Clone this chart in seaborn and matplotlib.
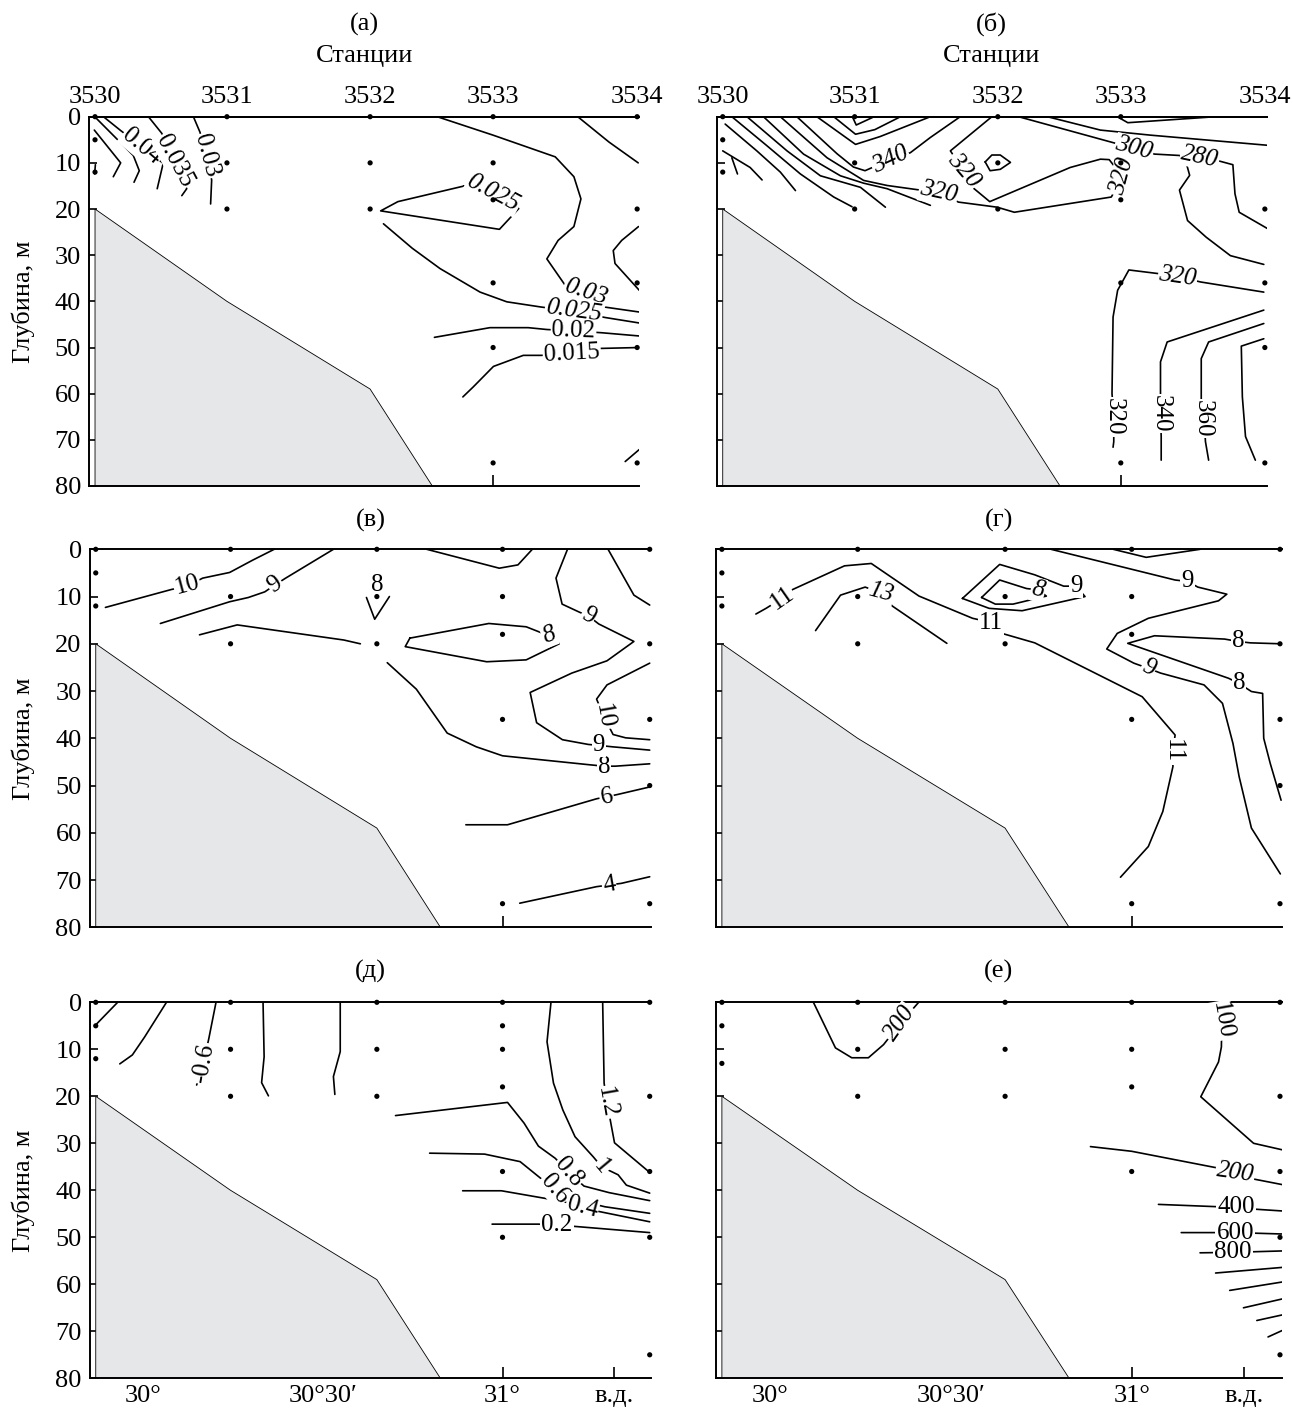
import matplotlib
matplotlib.use("Agg")
import matplotlib.pyplot as plt
import seaborn as sns

# ---------------- section geometry ----------------
stations = ["3530", "3531", "3532", "3533", "3534"]
station_lon = [29.867, 30.2425, 30.65, 31.0, 31.41]
lon_ticks = [30.0, 30.5, 31.0]
lon_tick_labels = ["30°", "30°30′", "31°"]
east_label_lon = 31.31
depth_ticks = [0, 10, 20, 30, 40, 50, 60, 70, 80]

# sea floor along the section
bottom_lon = [29.867, 30.2425, 30.65, 30.827, 29.867]
bottom_depth = [20, 40, 59, 80, 80]

# sampling depths at each station (same order as `stations`)
samples_a = [[0, 5, 12], [0, 10, 20], [0, 10, 20], [0, 10, 18, 36, 50, 75], [0, 20, 36, 50, 75]]
samples_b = [[0, 5, 12], [0, 10, 20], [0, 10, 20], [0, 10, 18, 36, 75], [20, 36, 50, 75]]
samples_v = [[0, 5, 12], [0, 10, 20], [0, 10, 20], [0, 10, 18, 36, 75], [0, 20, 36, 50, 75]]
samples_g = [[0, 5, 12], [0, 10, 20], [0, 10, 20], [0, 10, 18, 36, 75], [0, 20, 36, 50, 75]]
samples_d = [[0, 5, 12], [0, 10, 20], [0, 10, 20], [0, 5, 10, 18, 36, 50], [0, 20, 36, 50, 75]]
samples_e = [[0, 5, 13], [0, 10, 20], [0, 10, 20], [0, 10, 18, 36], [0, 20, 36, 50, 75]]

# isolines: (level, longitudes, depths, [(label lon, label depth, angle, italic), ...])
iso_a = [
    (None, [29.868, 29.866], [10.4, 12.4], []),
    (None, [29.865, 29.94, 29.919], [2.9, 10.0, 13.0], []),
    (None, [29.870, 29.976, 29.993, 29.978], [0.3, 8.4, 11.7, 14.2], []),
    (0.04, [29.891, 29.94, 30.0, 30.061, 30.044], [0, 3.0, 6.5, 10.1, 15.6], [(30.0, 6.5, -40, False)]),
    (0.035, [30.019, 30.057, 30.093, 30.128, 30.114], [0, 3.6, 9.6, 15.6, 17.1], [(30.093, 9.6, -62, False)]),
    (0.03, [30.147, 30.166, 30.183, 30.199, 30.196], [0, 3.4, 8.5, 13.7, 18.9], [(30.183, 8.5, -75, False)]),
    (0.03, [30.841, 31.0, 31.177, 31.230, 31.250, 31.230, 31.185, 31.153, 31.205, 31.264, 31.314, 31.415],
     [0, 4.0, 8.7, 13.0, 17.8, 23.8, 26.8, 30.8, 36.5, 38.0, 41.2, 42.3], [(31.264, 38.0, -18, True)]),
    (0.025, [30.918, 30.729, 30.680, 31.018, 31.073, 31.0, 30.918],
     [15.0, 18.4, 20.4, 24.4, 19.9, 16.6, 15.0], [(31.0, 16.6, -28, True)]),
    (0.025, [30.688, 30.77, 30.849, 30.963, 31.039, 31.134, 31.23, 31.319, 31.417],
     [23.2, 28.5, 32.9, 38.0, 40.1, 41.2, 42.2, 43.5, 44.7], [(31.23, 42.0, -8, True)]),
    (0.02, [30.833, 30.991, 31.100, 31.153, 31.229, 31.309, 31.416],
     [47.8, 45.7, 45.7, 46.1, 46.4, 46.8, 47.5], [(31.229, 46.4, -2, False)]),
    (0.015, [30.914, 30.944, 31.001, 31.086, 31.138, 31.224, 31.305, 31.417],
     [60.7, 58.5, 54.1, 51.7, 51.7, 51.2, 50.2, 50.0], [(31.224, 51.2, 3, False)]),
    (None, [31.376, 31.416], [74.7, 72.1], []),
    (None, [31.414, 31.366, 31.342, 31.347, 31.416], [23.8, 26.8, 29.0, 31.8, 37.6], []),
    (None, [31.241, 31.33, 31.413], [0, 5.5, 10.0], []),
]

iso_b = [
    (None, [29.893, 29.909], [8.9, 12.4], []),
    (None, [29.867, 29.945, 29.979], [7.4, 11.0, 13.7], []),
    (None, [29.874, 29.964, 30.031, 30.074], [1.6, 7.4, 12.0, 16.0], []),
    (None, [29.893, 29.993, 30.088, 30.183, 30.235], [0, 6.3, 12.4, 17.4, 19.5], []),
    (None, [29.936, 30.05, 30.145, 30.259, 30.33], [0, 7.4, 12.8, 15.3, 19.6], []),
    (None, [29.983, 30.097, 30.202, 30.268, 30.335, 30.458], [0, 8.1, 12.8, 14.4, 15.6, 19.2], []),
    (320, [30.031, 30.164, 30.268, 30.335, 30.42, 30.481, 30.538, 30.648, 30.697, 30.973, 31.005, 30.967,
           30.942, 30.856, 30.627, 30.581, 30.553, 30.515, 30.633],
     [0, 8.9, 13.8, 14.9, 15.8, 16.4, 18.5, 19.6, 20.7, 17.4, 13.0, 9.3, 9.2, 11.0, 18.4, 15.5, 11.7, 7.4, 0],
     [(30.481, 16.4, -12, True), (31.005, 13.0, 75, True), (30.553, 11.7, -50, True)]),
    (None, [30.614, 30.633, 30.657, 30.686, 30.657, 30.628, 30.614], [9.8, 8.3, 8.3, 9.9, 11.4, 11.7, 9.8], []),
    (None, [30.236, 30.247, 30.298], [0, 1.8, 0], []),
    (None, [30.183, 30.245, 30.30, 30.373], [0, 3.8, 2.8, 0], []),
    (None, [30.135, 30.245, 30.315, 30.458], [0, 6.0, 4.3, 0], []),
    (340, [30.078, 30.192, 30.239, 30.272, 30.344, 30.401, 30.458, 30.543], [0, 8.0, 10.9, 11.7, 9.3, 7.8, 4.5, 0],
     [(30.344, 9.4, 25, True)]),
    (None, [30.99, 31.02, 31.27], [0, 1.3, 0], []),
    (None, [30.791, 30.942, 31.085, 31.419], [0, 2.9, 4.0, 6.2], []),
    (300, [30.709, 30.982, 31.038, 31.096, 31.167, 31.184, 31.196, 31.167, 31.19, 31.243, 31.312, 31.407],
     [0, 5.7, 6.9, 8.1, 8.4, 9.4, 12.7, 15.9, 22.5, 26.1, 30.1, 32.0], [(31.038, 6.9, -15, True)]),
    (280, [31.175, 31.225, 31.28, 31.319, 31.325, 31.337, 31.419], [8.4, 8.6, 9.6, 10.4, 16.7, 20.7, 24.3],
     [(31.225, 8.7, -12, True)]),
    (320, [31.407, 31.227, 31.162, 31.108, 31.023, 30.991, 30.978, 30.975, 30.98, 30.98, 30.978],
     [38.0, 35.8, 34.6, 34.0, 33.2, 37.6, 43.4, 60.0, 65.0, 70.4, 71.6],
     [(31.162, 34.6, -8, True), (30.98, 65.0, -90, False)]),
    (340, [31.407, 31.132, 31.113, 31.113, 31.113, 31.115, 31.115], [41.9, 48.8, 53.1, 60.0, 64.3, 69.3, 74.4],
     [(31.113, 64.3, -90, False)]),
    (360, [31.407, 31.250, 31.229, 31.229, 31.237, 31.241, 31.250], [44.8, 48.8, 52.4, 61.4, 65.4, 70.4, 74.4],
     [(31.233, 65.4, -90, False)]),
    (None, [31.407, 31.343, 31.346, 31.355, 31.383], [48.1, 49.7, 60.7, 69.3, 74.4], []),
]

iso_v = [
    (10, [29.894, 30.078, 30.121, 30.165, 30.240, 30.304, 30.364], [12.3, 8.5, 7.8, 6.1, 4.9, 2.3, 0],
     [(30.121, 7.6, 15, False)]),
    (9, [30.047, 30.24, 30.292, 30.338, 30.367, 30.396, 30.529], [15.7, 11.1, 10.2, 9.0, 7.5, 6.1, 0],
     [(30.367, 7.5, 35, False)]),
    (None, [30.156, 30.261, 30.558, 30.604], [18.1, 16.0, 19.2, 20.0], []),
    (8, [30.621, 30.644, 30.685], [10.2, 14.8, 10.0], [(30.652, 7.6, 0, False)]),
    (8, [30.679, 30.760, 30.846, 30.927, 31.0, 31.242, 31.283, 31.314, 31.41],
     [24.0, 29.6, 38.9, 41.8, 43.7, 45.6, 45.9, 45.9, 45.4], [(31.283, 46.0, 0, False)]),
    (8, [30.742, 30.962, 31.066, 31.106, 31.129, 31.158, 31.066, 30.956, 30.729, 30.742],
     [18.8, 15.7, 16.4, 17.6, 18.1, 20.0, 23.4, 23.8, 20.6, 18.8], [(31.129, 18.1, 20, True)]),
    (None, [30.789, 30.991, 31.043, 31.083], [0, 4.0, 3.3, 0], []),
    (9, [31.181, 31.149, 31.166, 31.214, 31.239, 31.268, 31.366, 31.291, 31.193, 31.077, 31.095, 31.167,
         31.239, 31.268, 31.306, 31.41],
     [0, 6.1, 11.6, 13.3, 14.1, 15.8, 19.5, 23.6, 26.2, 30.3, 36.7, 40.3, 41.3, 41.5, 41.8, 42.5],
     [(31.239, 14.1, -30, False), (31.268, 41.5, 0, False)]),
    (10, [31.41, 31.291, 31.262, 31.283, 31.308, 31.343, 31.41], [24.1, 28.7, 31.7, 35.5, 39.2, 39.9, 40.3],
     [(31.283, 35.3, -80, False)]),
    (None, [31.294, 31.366, 31.41], [0, 9.7, 11.8], []),
    (6, [30.898, 31.014, 31.262, 31.32, 31.41], [58.3, 58.3, 52.8, 51.9, 50.3], [(31.29, 52.4, 10, False)]),
    (4, [31.048, 31.262, 31.331, 31.41], [74.9, 71.4, 70.7, 69.3], [(31.297, 71.1, 10, False)]),
]

iso_g = [
    (11, [29.961, 29.989, 30.033, 30.063, 30.206, 30.280, 30.412, 30.560, 30.612, 30.646, 30.732, 31.029,
          31.120, 31.114, 31.114, 31.086, 31.046, 30.969],
     [13.7, 12.5, 10.4, 8.5, 3.5, 3.0, 9.9, 14.6, 15.5, 17.9, 19.8, 31.2, 39.3, 42.8, 46.0, 55.5, 62.9, 69.4],
     [(30.033, 10.4, 35, False), (30.612, 15.5, 0, False), (31.114, 42.8, -90, False)]),
    (13, [30.126, 30.195, 30.263, 30.307, 30.338, 30.489], [17.2, 9.7, 8.0, 9.2, 12.0, 19.9],
     [(30.307, 9.2, -15, True)]),
    (9, [30.532, 30.635, 30.732, 30.812, 30.846, 30.871, 30.697, 30.606, 30.532],
     [10.4, 3.2, 5.4, 7.8, 7.8, 10.0, 13.0, 12.5, 10.4], [(30.846, 7.8, 0, False)]),
    (8, [30.585, 30.635, 30.709, 30.741, 30.764, 30.672, 30.623, 30.585],
     [10.2, 6.5, 8.3, 8.6, 9.9, 11.6, 11.6, 10.2], [(30.741, 8.6, -15, True)]),
    (None, [30.949, 31.04, 31.189], [0, 1.7, 0], []),
    (9, [30.777, 31.120, 31.154, 31.183, 31.263, 31.240, 31.046, 30.960, 30.931, 31.006, 31.046, 31.080,
         31.200, 31.251, 31.280, 31.297, 31.331, 31.411],
     [0, 6.5, 6.8, 8.0, 9.5, 10.9, 14.6, 17.8, 21.1, 24.1, 25.2, 26.2, 28.7, 32.6, 41.1, 48.1, 59.0, 68.7],
     [(31.154, 6.8, 0, False), (31.046, 25.2, -30, False)]),
    (8, [31.413, 31.328, 31.294, 31.257, 31.063, 30.989, 31.268, 31.297, 31.331, 31.362, 31.365, 31.383, 31.413],
     [20.0, 19.8, 19.5, 19.0, 18.3, 19.9, 27.3, 28.4, 30.1, 30.5, 40.0, 45.3, 53.1],
     [(31.294, 19.5, 0, False), (31.297, 28.4, 0, False)]),
]

iso_d = [
    (None, [29.867, 29.928], [4.8, 0], []),
    (None, [29.934, 29.969, 30.003, 30.064], [13.1, 11.2, 7.4, 0], []),
    (-0.6, [30.202, 30.182, 30.167, 30.148], [0, 7.7, 13.0, 17.6], [(30.167, 13.0, 80, False)]),
    (None, [30.333, 30.336, 30.329, 30.348], [0, 11.6, 17.1, 19.9], []),
    (None, [30.548, 30.548, 30.529, 30.533], [0, 10.5, 15.8, 19.6], []),
    (0.8, [30.702, 31.014, 31.060, 31.100, 31.147, 31.184, 31.227, 31.297, 31.410],
     [24.1, 21.3, 25.7, 30.6, 33.2, 36.2, 39.1, 40.5, 42.2], [(31.184, 36.2, -50, False)]),
    (0.6, [30.797, 30.950, 31.049, 31.112, 31.144, 31.176, 31.285, 31.41],
     [32.1, 32.3, 33.9, 37.8, 39.8, 41.5, 43.5, 44.9], [(31.144, 39.8, -50, False)]),
    (0.4, [30.889, 30.997, 31.170, 31.222, 31.268, 31.41], [40.1, 40.1, 42.4, 43.6, 44.5, 46.7],
     [(31.222, 43.6, -15, False)]),
    (0.2, [30.971, 31.1, 31.152, 31.204, 31.41], [47.2, 47.2, 47.4, 47.7, 49.0], [(31.152, 47.4, 0, False)]),
    (1, [31.135, 31.124, 31.142, 31.168, 31.202, 31.253, 31.276, 31.322, 31.345, 31.41],
     [0, 8.4, 17.2, 22.9, 28.6, 32.9, 35.0, 36.7, 38.9, 40.6], [(31.276, 35.0, -50, False)]),
    (1.2, [31.279, 31.283, 31.291, 31.312, 31.41], [0, 17.2, 21.3, 29.9, 36.2], [(31.29, 21.3, -80, False)]),
]

iso_e = [
    (200, [30.12, 30.181, 30.226, 30.272, 30.314, 30.36, 30.411], [0, 9.7, 11.8, 11.8, 9.0, 4.5, 0],
     [(30.36, 4.5, 55, True)]),
    (100, [31.229, 31.249, 31.248, 31.24, 31.191, 31.337, 31.417], [0, 3.9, 9.5, 12.7, 20.1, 30.0, 31.4],
     [(31.249, 3.9, -80, False)]),
    (200, [30.886, 31.0, 31.234, 31.286, 31.337, 31.417], [30.7, 31.7, 35.2, 36.2, 37.6, 38.8],
     [(31.286, 36.2, -8, True)]),
    (400, [31.074, 31.24, 31.289, 31.337, 31.417], [43.0, 43.5, 43.6, 44.0, 44.4], [(31.289, 43.6, 0, False)]),
    (600, [31.137, 31.24, 31.286, 31.417], [49.0, 49.0, 49.0, 49.3], [(31.286, 49.0, 0, False)]),
    (800, [31.189, 31.28, 31.417], [53.3, 53.2, 52.9], [(31.28, 53.2, 0, False)]),
    (None, [31.232, 31.417], [57.6, 56.4], []),
    (None, [31.271, 31.417], [61.3, 59.5], []),
    (None, [31.309, 31.417], [65.0, 63.1], []),
    (None, [31.346, 31.417], [67.7, 66.5], []),
    (None, [31.377, 31.417], [71.2, 69.8], []),
]

panel_letters = ["(а)", "(б)", "(в)", "(г)", "(д)", "(е)"]

# ---------------- styling ----------------
sns.set_theme(style="ticks", rc={
    "axes.edgecolor": "black", "text.color": "black", "axes.labelcolor": "black",
    "xtick.color": "black", "ytick.color": "black",
})
plt.rcParams["font.family"] = ["Liberation Serif", "DejaVu Serif"]

FS = 19        # axis text
FS_ISO = 18    # isoline labels
GREY = "#e6e7e9"

fig = plt.figure(figsize=(12.93, 14.09), dpi=100)
W, H = 1293.0, 1409.0


def box(left, right, top, bottom):
    return [left / W, 1 - bottom / H, (right - left) / W, (bottom - top) / H]


frames = [
    box(89.4, 638.9, 116.7, 486.0), box(717.1, 1266.6, 116.7, 486.0),
    box(90.0, 651.5, 549.3, 927.3), box(716.1, 1281.8, 549.3, 927.3),
    box(90.0, 651.5, 1002.3, 1378.3), box(716.1, 1281.8, 1002.3, 1378.3),
]
panels = [(samples_a, iso_a), (samples_b, iso_b), (samples_v, iso_v),
          (samples_g, iso_g), (samples_d, iso_d), (samples_e, iso_e)]
title_y = [24, 24, 520, 520, 971, 971]


def draw_panel(ax, samples, isolines):
    ax.fill(bottom_lon, bottom_depth, facecolor=GREY, edgecolor="black", lw=0.6, zorder=1)
    for level, lons, depths, labels in isolines:
        sns.lineplot(x=lons, y=depths, sort=False, estimator=None, color="black",
                     lw=1.2, ax=ax, legend=False, zorder=3)
        for lx, ly, ang, ital in labels:
            ax.text(lx, ly, f"{level:g}", rotation=ang, rotation_mode="anchor",
                    ha="center", va="center", fontsize=FS_ISO,
                    style="italic" if ital else "normal",
                    bbox=dict(boxstyle="square,pad=0.04", fc="white", ec="none"), zorder=4)
    xs = [lon for lon, ds in zip(station_lon, samples) for _ in ds]
    ys = [d for ds in samples for d in ds]
    sns.scatterplot(x=xs, y=ys, color="black", s=14, edgecolor="none", ax=ax,
                    zorder=6, clip_on=False, legend=False)


for i, (frame, (samples, isolines)) in enumerate(zip(frames, panels)):
    ax = fig.add_axes(frame)
    draw_panel(ax, samples, isolines)
    row, col = divmod(i, 2)

    ax.set_xlim(29.851, 31.415)
    ax.set_ylim(80, 0)
    ax.set_xlabel("")
    ax.set_ylabel("")
    for side in ("left", "top", "bottom"):
        ax.spines[side].set_linewidth(1.4)
        ax.spines[side].set_color("black")
    ax.spines["right"].set_visible(False)

    ax.set_yticks(depth_ticks)
    ax.tick_params(axis="y", direction="in", length=6, width=1.2, labelsize=FS, pad=6,
                   left=True, right=False, labelleft=(col == 0))

    if row == 2:
        ax.set_xticks(lon_ticks + [east_label_lon], labels=lon_tick_labels + ["в.д."])
        ax.xaxis.get_major_ticks()[-1].tick1line.set_visible(False)
    else:
        ax.set_xticks(lon_ticks)
    ax.tick_params(axis="x", direction="in", length=8, width=1.2, labelsize=FS, pad=5,
                   bottom=True, top=False, labelbottom=(row == 2))

    cx = frame[0] + frame[2] / 2
    fig.text(cx, 1 - title_y[i] / H, panel_letters[i], ha="center", va="center", fontsize=FS)

    if row == 0:
        sec = ax.secondary_xaxis("top")
        sec.set_xticks(station_lon, labels=stations)
        sec.tick_params(length=0, pad=6, labelsize=FS)
        sec.spines["top"].set_linewidth(1.4)
        fig.text(cx, 1 - 56 / H, "Станции", ha="center", va="center", fontsize=FS)

    if col == 0:
        fig.text(23 / W, frame[1] + frame[3] / 2, "Глубина, м", rotation=90,
                 ha="center", va="center", fontsize=FS)

fig.savefig("out.png", dpi=100)
